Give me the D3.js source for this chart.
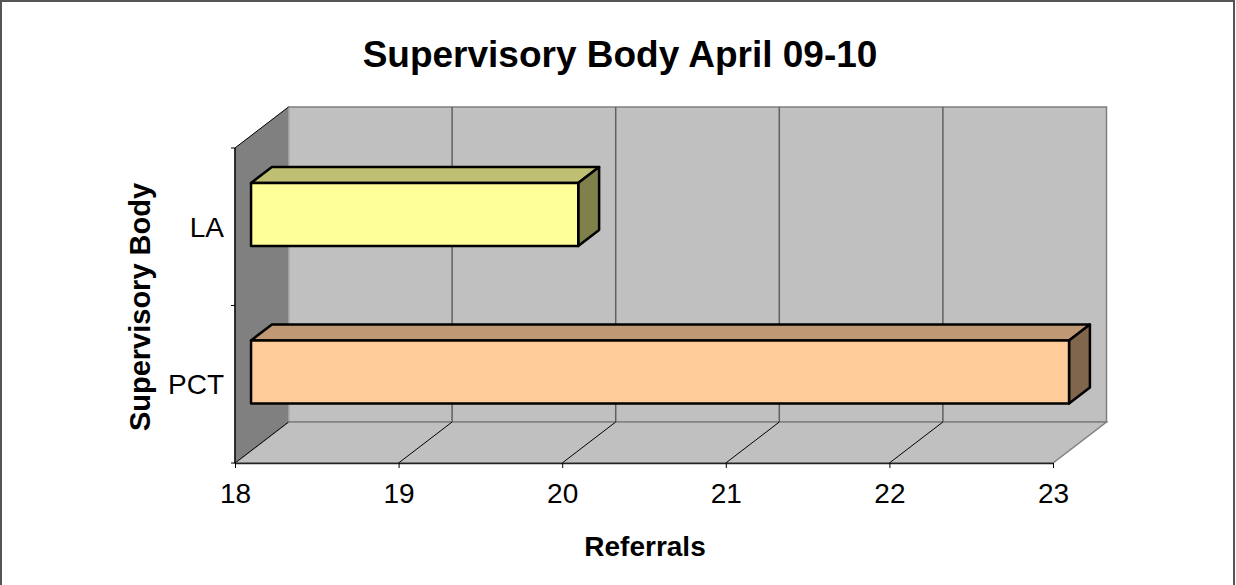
<!DOCTYPE html>
<html>
<head>
<meta charset="utf-8">
<script src="https://cdn.jsdelivr.net/npm/d3@7"></script>
<style>
  body { margin: 0; background: #fff; }
  text { font-family: "Liberation Sans", Arial, sans-serif; }
</style>
</head>
<body>
<svg id="svg1" width="1236" height="585"></svg>
<script>
var categories = ['LA', 'PCT'];
var referrals = [20, 23];
var xTicks = [18, 19, 20, 21, 22, 23];
var frontColors = ['#FFFF99', '#FFCC99'];
var topColors = ['#BFBF73', '#BF9973'];
var sideColors = ['#80804D', '#80664D'];

var svg = d3.select('#svg1');

var plot = {l: 235, r: 1053, t: 148, b: 463};
var depth = {dx: 53.5, dy: -41};     // offset from front plane to back wall
var barDepth = [0.30, 0.69];         // bar sits in middle of the depth

var x = d3.scaleLinear()
    .domain([18, 23])
    .range([plot.l, plot.r]);

var y = d3.scaleBand()
    .domain(categories)
    .range([plot.t, plot.b]);

var yBar = d3.scaleBand()
    .domain(categories)
    .range([plot.t, plot.b])
    .paddingInner(0.6)
    .paddingOuter(0.3);

// project a front-plane point back by t (0 = front, 1 = back wall)
function p(px, py, t) {
    return [px + depth.dx * t, py + depth.dy * t];
}
function poly(pts) {
    return pts.map(function(d) { return d.join(','); }).join(' ');
}

// outer border
svg.append('rect')
    .attr('x', 1).attr('y', 1)
    .attr('width', 1233).attr('height', 590)
    .attr('fill', 'none')
    .attr('stroke', '#555')
    .attr('stroke-width', 2);

svg.append('text')
    .attr('x', 620).attr('y', 67)
    .attr('text-anchor', 'middle')
    .style('font-size', '37px')
    .style('font-weight', 'bold')
    .text('Supervisory Body April 09-10');

var walls = svg.append('g').attr('class', 'walls');

// back wall
walls.append('polygon')
    .attr('points', poly([p(plot.l, plot.t, 1), p(plot.r, plot.t, 1), p(plot.r, plot.b, 1), p(plot.l, plot.b, 1)]))
    .attr('fill', '#C0C0C0')
    .attr('stroke', '#808080')
    .attr('stroke-width', 1.5);

// floor
walls.append('polygon')
    .attr('points', poly([p(plot.l, plot.b, 0), p(plot.r, plot.b, 0), p(plot.r, plot.b, 1), p(plot.l, plot.b, 1)]))
    .attr('fill', '#C0C0C0')
    .attr('stroke', '#808080')
    .attr('stroke-width', 1.5);

// left side wall
walls.append('polygon')
    .attr('points', poly([p(plot.l, plot.t, 0), p(plot.l, plot.t, 1), p(plot.l, plot.b, 1), p(plot.l, plot.b, 0)]))
    .attr('fill', '#808080')
    .attr('stroke', '#A0A0A0')
    .attr('stroke-width', 1);
walls.append('line')
    .attr('x1', p(plot.l, plot.t, 0)[0]).attr('y1', p(plot.l, plot.t, 0)[1])
    .attr('x2', p(plot.l, plot.t, 1)[0]).attr('y2', p(plot.l, plot.t, 1)[1])
    .attr('stroke', '#000').attr('stroke-width', 1);

// gridlines on back wall
walls.selectAll('.grid-back')
    .data(xTicks.slice(1, -1))
    .enter().append('line')
    .attr('class', 'grid-back')
    .attr('x1', function(d) { return p(x(d), plot.t, 1)[0]; })
    .attr('y1', function(d) { return p(x(d), plot.t, 1)[1]; })
    .attr('x2', function(d) { return p(x(d), plot.b, 1)[0]; })
    .attr('y2', function(d) { return p(x(d), plot.b, 1)[1]; })
    .attr('stroke', '#606060')
    .attr('stroke-width', 1.5);

// gridlines on floor
walls.selectAll('.grid-floor')
    .data(xTicks.slice(0, -1))
    .enter().append('line')
    .attr('class', 'grid-floor')
    .attr('x1', function(d) { return x(d); })
    .attr('y1', plot.b)
    .attr('x2', function(d) { return p(x(d), plot.b, 1)[0]; })
    .attr('y2', function(d) { return p(x(d), plot.b, 1)[1]; })
    .attr('stroke', '#000')
    .attr('stroke-width', 1);

// bars
var bars = svg.selectAll('.bar')
    .data(categories)
    .enter().append('g')
    .attr('class', 'bar');

bars.each(function(d, i) {
    var g = d3.select(this);
    var x0 = x(18), x1 = x(referrals[i]);
    var y0 = yBar(d), y1 = yBar(d) + yBar.bandwidth();
    var t0 = barDepth[0], t1 = barDepth[1];
    g.append('polygon')
        .attr('points', poly([p(x0, y0, t0), p(x1, y0, t0), p(x1, y0, t1), p(x0, y0, t1)]))
        .attr('fill', topColors[i]);
    g.append('polygon')
        .attr('points', poly([p(x1, y0, t0), p(x1, y0, t1), p(x1, y1, t1), p(x1, y1, t0)]))
        .attr('fill', sideColors[i]);
    g.append('polygon')
        .attr('points', poly([p(x0, y0, t0), p(x1, y0, t0), p(x1, y1, t0), p(x0, y1, t0)]))
        .attr('fill', frontColors[i]);
    g.selectAll('polygon')
        .attr('stroke', '#000')
        .attr('stroke-width', 2.5)
        .attr('stroke-linejoin', 'round');
});

// x axis along the front edge of the floor
var xAxis = svg.append('g')
    .attr('class', 'x_axis')
    .attr('transform', 'translate(0,' + plot.b + ')')
    .call(d3.axisBottom(x).tickValues(xTicks).tickSize(5).tickSizeOuter(0).tickPadding(15).tickFormat(d3.format('d')));
xAxis.select('.domain').attr('stroke', '#222').attr('stroke-width', 1.5);
xAxis.selectAll('text')
    .attr('fill', '#000')
    .style('font-size', '28px')
    .style('font-family', '"Liberation Sans", Arial, sans-serif');

// y axis
var yAxis = svg.append('g').attr('class', 'y_axis');
yAxis.append('line')
    .attr('x1', plot.l).attr('x2', plot.l)
    .attr('y1', plot.t).attr('y2', plot.b)
    .attr('stroke', '#000').attr('stroke-width', 1.5);
var bounds = categories.map(function(d) { return y(d); }).concat([y.range()[1]]);
yAxis.selectAll('.tick')
    .data(bounds)
    .enter().append('line')
    .attr('class', 'tick')
    .attr('x1', plot.l - 4).attr('x2', plot.l)
    .attr('y1', function(d) { return d; })
    .attr('y2', function(d) { return d; })
    .attr('stroke', '#000');
yAxis.selectAll('.label')
    .data(categories)
    .enter().append('text')
    .attr('class', 'label')
    .attr('x', plot.l - 11)
    .attr('y', function(d) { return y(d) + y.bandwidth() / 2 + 10; })
    .attr('text-anchor', 'end')
    .style('font-size', '28px')
    .text(function(d) { return d; });

svg.append('text')
    .attr('x', 645).attr('y', 556)
    .attr('text-anchor', 'middle')
    .style('font-size', '28px')
    .style('font-weight', 'bold')
    .text('Referrals');

svg.append('text')
    .attr('transform', 'translate(' + [150, 307] + ') rotate(-90)')
    .attr('text-anchor', 'middle')
    .style('font-size', '29px')
    .style('font-weight', 'bold')
    .text('Supervisory Body');
</script>
</body>
</html>
